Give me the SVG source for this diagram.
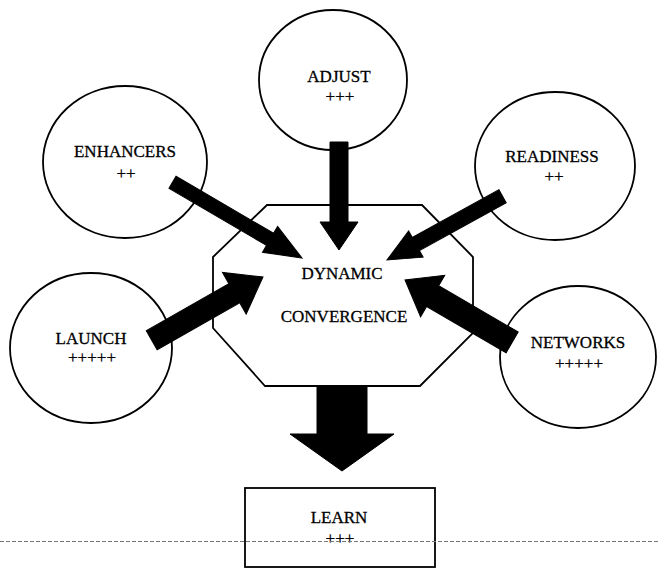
<svg xmlns="http://www.w3.org/2000/svg" width="658" height="569" viewBox="0 0 658 569">
<style>
.n{fill:#fff;stroke:#000;stroke-width:1.8}
.t{font-family:"Liberation Serif","Times New Roman",serif;font-size:17px;fill:#000;stroke:#000;stroke-width:0.3;text-anchor:middle}
.a{fill:#000;stroke:#000;stroke-width:1;stroke-linejoin:miter}
.d{stroke:#777;stroke-width:1;stroke-dasharray:4 2;fill:none}
</style>
<rect width="658" height="569" fill="#fff"/>
<g id="adjust">
<ellipse class="n" cx="333" cy="80" rx="74" ry="70"/>
<text class="t" x="339" y="82">ADJUST</text>
<text class="t" x="340" y="102">+++</text>
</g>
<g id="enhancers">
<ellipse class="n" cx="125" cy="162" rx="82" ry="76"/>
<text class="t" x="125" y="157">ENHANCERS</text>
<text class="t" x="126" y="179">++</text>
</g>
<g id="readiness">
<ellipse class="n" cx="555" cy="166" rx="80" ry="74"/>
<text class="t" x="552" y="162">READINESS</text>
<text class="t" x="554" y="182">++</text>
</g>
<g id="launch">
<ellipse class="n" cx="91" cy="348" rx="81" ry="75"/>
<text class="t" x="91" y="344">LAUNCH</text>
<text class="t" x="92" y="363">+++++</text>
</g>
<g id="networks">
<ellipse class="n" cx="578" cy="357" rx="78" ry="71"/>
<text class="t" x="578" y="348">NETWORKS</text>
<text class="t" x="579" y="369">+++++</text>
</g>
<g id="dynamic-convergence">
<polygon class="n" points="267,205 422,205 473,257 473,333 420,386 265,386 213,328 213,257"/>
<text class="t" x="342" y="279" font-size="17.5">DYNAMIC</text>
<text class="t" x="344" y="322" font-size="17.5">CONVERGENCE</text>
</g>
<g id="learn">
<rect class="n" x="245" y="488" width="190" height="79"/>
<text class="t" x="339" y="523">LEARN</text>
<text class="t" x="340" y="544">+++</text>
</g>
<line class="d" x1="0" y1="541.5" x2="658" y2="541.5"/>
<g id="connectors">
<polygon class="a" transform="translate(339,250) rotate(90)" points="-108,-9 -28,-9 -28,-19 0,0 -28,19 -28,9 -108,9"/>
<polygon class="a" transform="translate(302,258) rotate(30.3)" points="-150,-7 -37,-7 -37,-15 0,0 -37,15 -37,7 -150,7"/>
<polygon class="a" transform="translate(387,260) rotate(151.1)" points="-132,-7.5 -33,-7.5 -33,-15 0,0 -33,15 -33,7.5 -132,7.5"/>
<polygon class="a" transform="translate(263,277) rotate(-29.6)" points="-128,-11 -33,-11 -33,-24 0,0 -33,24 -33,11 -128,11"/>
<polygon class="a" transform="translate(405,280) rotate(-149.8)" points="-124,-12 -32,-12 -32,-24 0,0 -32,24 -32,12 -124,12"/>
<polygon class="a" transform="translate(342,471) rotate(90)" points="-85,-25 -37,-25 -37,-52 0,0 -37,52 -37,25 -85,25"/>
</g>
</svg>
